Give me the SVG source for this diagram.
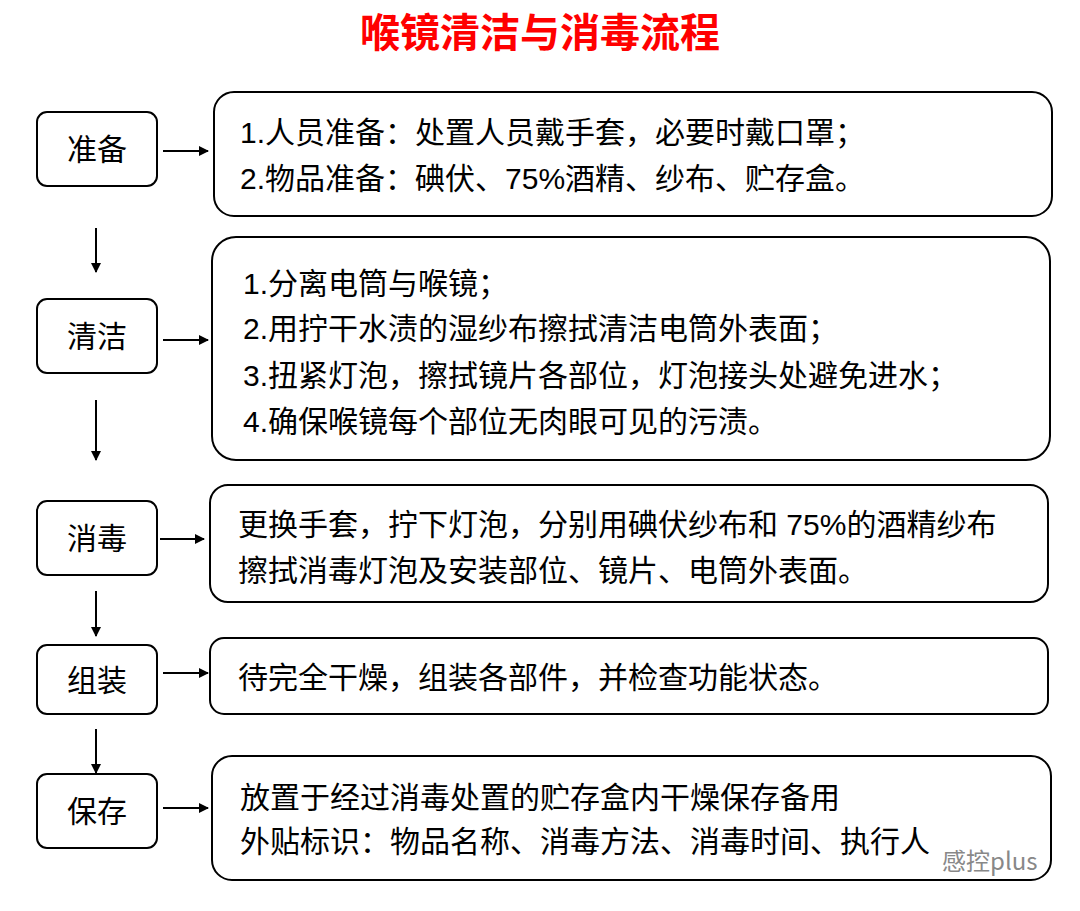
<svg xmlns="http://www.w3.org/2000/svg" width="1080" height="911" viewBox="0 0 1080 911">
<style>
.b{fill:#fff;stroke:#000;stroke-width:2}
.t{font-family:"Liberation Sans","Noto Sans CJK SC",sans-serif;font-size:30px;fill:#000}
.l{font-family:"Liberation Sans","Noto Sans CJK SC",sans-serif;font-size:30px;fill:#000;text-anchor:middle}
.c{stroke:#000;stroke-width:2;fill:none;marker-end:url(#a)}
</style>
<defs><marker id="a" markerWidth="10" markerHeight="10" refX="9" refY="5" orient="auto" markerUnits="userSpaceOnUse"><path d="M0,0 L10,5 L0,10 z" fill="#000"/></marker></defs>
<rect width="1080" height="911" fill="#fff"/>
<text x="540" y="47" text-anchor="middle" font-family="Noto Sans CJK SC,sans-serif" font-size="40" font-weight="bold" fill="#f00">喉镜清洁与消毒流程</text>
<g id="n1"><rect class="b" x="37" y="112" width="120" height="74" rx="10"/><text class="l" x="97" y="160">准备</text></g>
<g id="n2"><rect class="b" x="37" y="299" width="120" height="74" rx="10"/><text class="l" x="97" y="347">清洁</text></g>
<g id="n3"><rect class="b" x="37" y="501" width="120" height="74" rx="10"/><text class="l" x="97" y="549">消毒</text></g>
<g id="n4"><rect class="b" x="37" y="645" width="120" height="69" rx="10"/><text class="l" x="97" y="691">组装</text></g>
<g id="n5"><rect class="b" x="37" y="774" width="120" height="74" rx="10"/><text class="l" x="97" y="822">保存</text></g>
<g id="d1"><rect class="b" x="214" y="92" width="838" height="124" rx="20"/><text class="t" x="240" y="143">1.人员准备：处置人员戴手套，必要时戴口罩；</text><text class="t" x="240" y="189">2.物品准备：碘伏、75%酒精、纱布、贮存盒。</text></g>
<g id="d2"><rect class="b" x="212" y="237" width="838" height="223" rx="24"/><text class="t" x="243" y="294">1.分离电筒与喉镜；</text><text class="t" x="243" y="339">2.用拧干水渍的湿纱布擦拭清洁电筒外表面；</text><text class="t" x="243" y="386">3.扭紧灯泡，擦拭镜片各部位，灯泡接头处避免进水；</text><text class="t" x="243" y="432">4.确保喉镜每个部位无肉眼可见的污渍。</text></g>
<g id="d3"><rect class="b" x="210" y="485" width="838" height="117" rx="18"/><text class="t" x="238" y="535">更换手套，拧下灯泡，分别用碘伏纱布和 75%的酒精纱布</text><text class="t" x="238" y="581">擦拭消毒灯泡及安装部位、镜片、电筒外表面。</text></g>
<g id="d4"><rect class="b" x="210" y="638" width="838" height="76" rx="14"/><text class="t" x="238" y="688">待完全干燥，组装各部件，并检查功能状态。</text></g>
<g id="d5"><rect class="b" x="212" y="756" width="839" height="124" rx="20"/><text class="t" x="240" y="808">放置于经过消毒处置的贮存盒内干燥保存备用</text><text class="t" x="240" y="852">外贴标识：物品名称、消毒方法、消毒时间、执行人</text></g>
<g id="connectors">
<line class="c" x1="163" y1="151" x2="208" y2="151"/>
<line class="c" x1="163" y1="340" x2="208" y2="340"/>
<line class="c" x1="160" y1="539" x2="204" y2="539"/>
<line class="c" x1="163" y1="673" x2="208" y2="673"/>
<line class="c" x1="163" y1="808" x2="208" y2="808"/>
<line class="c" x1="96" y1="228" x2="96" y2="272"/>
<line class="c" x1="96" y1="400" x2="96" y2="460"/>
<line class="c" x1="96" y1="591" x2="96" y2="636"/>
<line class="c" x1="96" y1="729" x2="96" y2="773"/>
</g>
<text x="942" y="870" font-family="Noto Sans CJK SC,sans-serif" font-size="24" fill="#888">感控plus</text>
</svg>
